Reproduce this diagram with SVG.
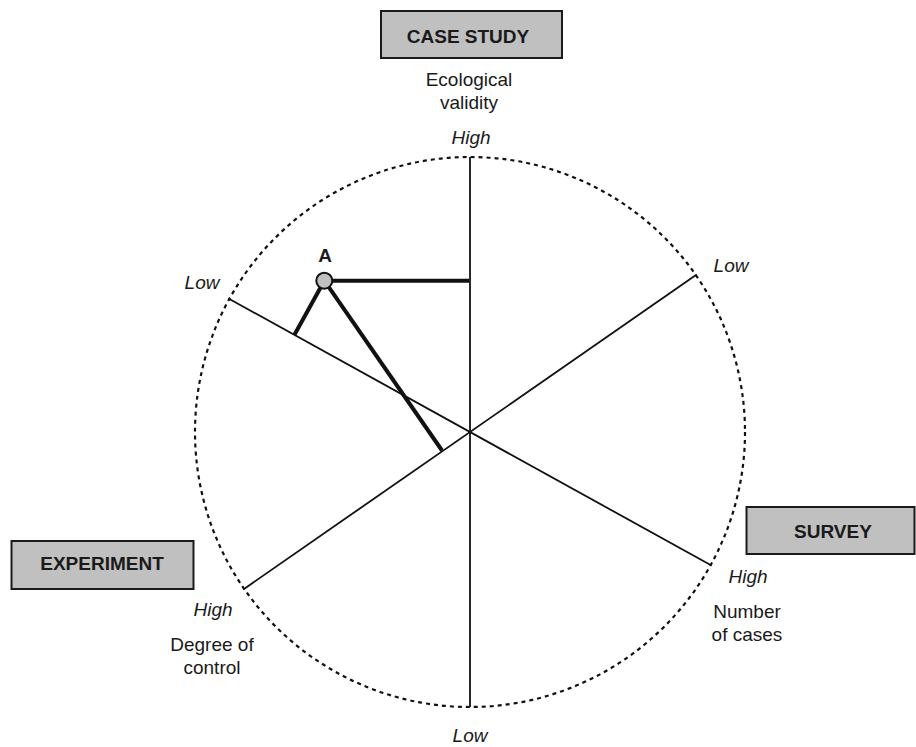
<svg xmlns="http://www.w3.org/2000/svg" width="916" height="747" viewBox="0 0 916 747">
  <style>
    .box { fill: #c0c0c0; stroke: #1a1a1a; stroke-width: 2; }
    .boxlabel { font-family: "Liberation Sans", Arial, sans-serif; font-weight: bold; font-size: 19px; fill: #1a1a1a; text-anchor: middle; }
    .label { font-family: "Liberation Sans", Arial, sans-serif; font-size: 19px; fill: #1a1a1a; text-anchor: middle; }
    .end { font-family: "Liberation Sans", Arial, sans-serif; font-style: italic; font-size: 19px; fill: #1a1a1a; text-anchor: middle; }
    .axis { stroke: #111; stroke-width: 1.8; fill: none; }
    .rim { stroke: #111; stroke-width: 2.2; stroke-dasharray: 4 4; fill: none; }
    .link { stroke: #111; stroke-width: 4; fill: none; stroke-linecap: butt; }
  </style>

  <!-- dotted outer circle -->
  <circle class="rim" cx="470" cy="432" r="275"/>

  <g id="connectors">
    <!-- three axes through the centre -->
    <line class="axis" x1="470" y1="157" x2="470" y2="707" stroke="#333"/>
    <line class="axis" x1="228.5" y1="298.5" x2="711.5" y2="565.5"/>
    <line class="axis" x1="696.7" y1="274.6" x2="243.3" y2="589.4"/>
    <!-- projections of point A onto each axis -->
    <line class="link" x1="324.3" y1="280.7" x2="469" y2="280.7"/>
    <line class="link" x1="324.3" y1="280.7" x2="294.5" y2="334.8"/>
    <line class="link" x1="324.3" y1="280.7" x2="442" y2="450.5"/>
  </g>

  <g id="case-study">
    <rect class="box" x="381" y="11" width="181" height="47"/>
    <text class="boxlabel" x="468" y="43">CASE STUDY</text>
  </g>

  <g id="survey">
    <rect class="box" x="746.5" y="507" width="168" height="47"/>
    <text class="boxlabel" x="833" y="538">SURVEY</text>
  </g>

  <g id="experiment">
    <rect class="box" x="11.5" y="541" width="182" height="48"/>
    <text class="boxlabel" x="102" y="570">EXPERIMENT</text>
  </g>

  <g id="ecological-validity">
    <text class="label" x="469" y="86">Ecological</text>
    <text class="label" x="469" y="109">validity</text>
    <text class="end" x="471" y="144">High</text>
    <text class="end" x="470" y="742">Low</text>
  </g>

  <g id="number-of-cases">
    <text class="end" x="202" y="288.5">Low</text>
    <text class="end" x="748" y="582.5">High</text>
    <text class="label" x="747" y="618">Number</text>
    <text class="label" x="747" y="640.5">of cases</text>
  </g>

  <g id="degree-of-control">
    <text class="end" x="731" y="272">Low</text>
    <text class="end" x="213" y="616">High</text>
    <text class="label" x="212" y="651">Degree of</text>
    <text class="label" x="212" y="674">control</text>
  </g>

  <g id="point-a">
    <circle cx="324.3" cy="280.7" r="8" fill="#c0c0c0" stroke="#111" stroke-width="2"/>
    <text class="boxlabel" x="325" y="261.5">A</text>
  </g>
</svg>
